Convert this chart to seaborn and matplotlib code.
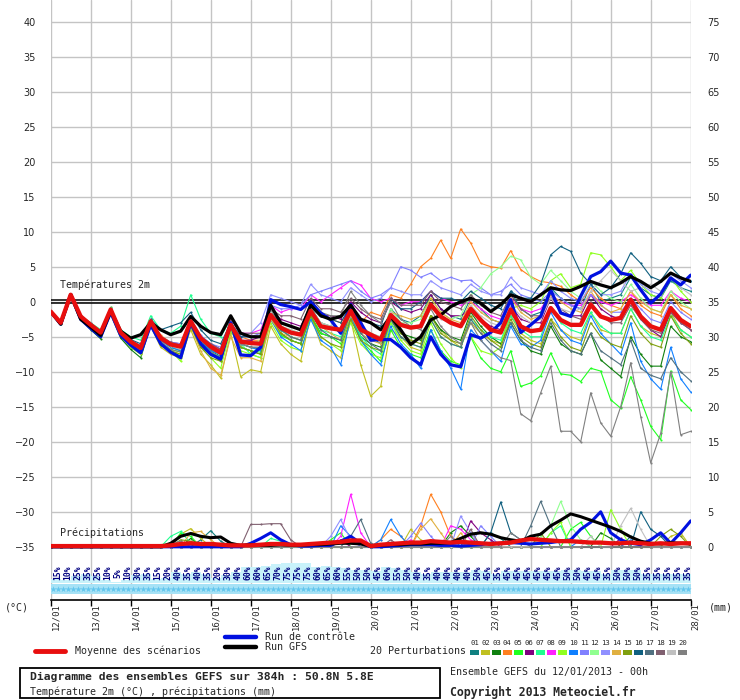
import pandas as pd
import seaborn as sns
import matplotlib.pyplot as plt
import matplotlib.transforms as mtransforms
from matplotlib.lines import Line2D
from matplotlib.patches import Rectangle

# --------------------------------------------------------------------------- #
# Data (6-hourly steps, 12/01 00h -> 28/01 00h)
steps = list(range(65))
day_labels = ["12/01", "13/01", "14/01", "15/01", "16/01", "17/01", "18/01", "19/01", "20/01",
              "21/01", "22/01", "23/01", "24/01", "25/01", "26/01", "27/01", "28/01"]

# ensemble mean temperature (red)
t_mean = [-1.4, -3.0, 1.0, -2.1, -3.3, -4.4, -1.1, -4.4,
          -5.7, -6.6, -2.8, -5.2, -6.1, -6.4, -2.8, -5.2,
          -6.4, -7.3, -3.3, -5.7, -5.9, -6.0, -1.9, -3.7,
          -4.4, -4.7, -1.3, -3.5, -3.8, -4.0, -1.3, -4.0,
          -4.7, -5.4, -1.9, -3.3, -3.7, -3.5, -0.4, -2.1,
          -3.0, -3.5, -1.0, -2.6, -4.0, -4.4, -1.1, -3.5,
          -4.2, -4.0, -0.9, -2.6, -3.3, -3.3, -0.4, -2.1,
          -2.6, -2.3, 0.3, -2.1, -3.5, -4.0, -0.9, -2.6, -3.5]
# control run (blue)
t_ctrl = [-1.4, -3.2, 1.0, -2.5, -3.8, -5.0, -1.5, -4.8,
          -6.2, -7.3, -3.3, -6.0, -7.2, -8.0, -3.0, -6.0,
          -7.5, -8.2, -3.0, -7.6, -7.7, -6.5, 0.3, -0.4,
          -0.7, -1.1, 0.0, -1.6, -2.6, -4.5, -0.4, -3.0,
          -5.5, -5.4, -5.4, -6.5, -8.0, -9.0, -5.0, -7.5,
          -9.0, -9.3, -4.7, -5.2, -4.4, -3.0, 0.3, -4.4,
          -3.3, -2.1, 1.7, -1.6, -2.1, 0.8, 3.6, 4.3,
          5.8, 4.1, 3.8, 1.7, -0.2, 1.1, 3.4, 2.4, 3.8]
# GFS run (black)
t_gfs = [-1.4, -3.2, 1.0, -2.5, -3.6, -4.8, -1.3, -4.2,
         -5.2, -4.7, -3.0, -4.0, -4.7, -4.2, -2.1, -3.5,
         -4.4, -4.7, -2.0, -4.5, -5.0, -5.0, -0.5, -3.0,
         -3.5, -4.0, -0.5, -2.0, -2.5, -2.1, -0.5, -2.5,
         -3.0, -4.0, -2.1, -4.0, -6.1, -5.0, -2.6, -1.9,
         -0.7, 0.0, 0.5, -0.2, -1.4, -0.4, 1.0, 0.5,
         0.0, 1.0, 2.0, 1.7, 1.6, 2.2, 2.9, 2.4,
         2.0, 2.7, 3.6, 2.9, 2.0, 2.9, 4.1, 3.4, 2.9]

# 20 perturbations, temperature
pert_temp = [
    # 01
    [-1.4, -3.1, 1.1, -2.3, -3.5, -4.6, -1.0, -4.5, -6.0, -7.0, -3.0, -5.5, -6.5, -7.0, -3.0, -5.8,
     -7.0, -7.8, -3.2, -6.0, -6.5, -6.8, -1.5, -4.0, -5.0, -5.5, -0.8, -3.0, -3.5, -4.5, -0.5, -3.5,
     -5.0, -6.0, -1.0, -2.5, -3.0, -2.0, 1.0, -1.0, -2.0, -2.5, 0.5, -1.0, -2.5, -3.0, 1.5, -1.0,
     -2.0, -1.5, 2.0, 0.5, -0.5, -1.0, 2.5, 0.0, 0.5, 1.0, 3.5, 2.0, 1.0, 0.5, 3.0, 2.0, 1.5],
    # 02
    [-1.4, -3.0, 0.8, -2.0, -3.0, -4.5, -1.5, -5.0, -6.5, -7.5, -3.5, -6.5, -7.5, -8.0, -4.0, -7.5,
     -9.0, -10.9, -4.5, -10.7, -9.7, -10.0, -3.5, -6.0, -7.5, -8.5, -2.0, -6.0, -7.0, -8.0, -2.5, -9.0,
     -13.5, -12.1, -4.0, -5.0, -6.5, -7.0, -2.0, -4.0, -5.5, -6.5, -3.0, -4.5, -5.5, -6.0, -2.0, -4.5,
     -5.5, -6.0, -2.5, -4.0, -5.0, -5.5, -1.5, -4.0, -4.5, -4.5, -1.0, -3.5, -4.5, -5.0, -1.5, -4.0, -5.0],
    # 03
    [-1.4, -3.2, 0.9, -2.6, -4.0, -5.3, -1.8, -5.2, -6.8, -8.0, -3.4, -6.2, -7.0, -7.8, -3.0, -6.5,
     -7.5, -8.5, -4.0, -6.5, -7.0, -7.5, -2.5, -4.5, -5.5, -6.0, -2.0, -4.5, -5.0, -5.5, -2.0, -5.0,
     -6.0, -6.5, -2.5, -4.5, -5.0, -5.5, -2.0, -4.0, -5.0, -5.5, -1.5, -3.5, -5.0, -6.0, -3.0, -5.5,
     -7.0, -7.5, -3.5, -6.0, -7.0, -7.5, -4.5, -8.3, -9.5, -10.7, -5.0, -7.5, -9.2, -9.2, -3.5, -5.0, -5.7],
    # 04
    [-1.4, -2.9, 1.0, -2.2, -3.4, -4.2, -0.8, -4.2, -5.5, -6.5, -2.6, -4.8, -5.8, -6.2, -2.5, -5.0,
     -6.0, -7.0, -3.0, -5.0, -5.5, -5.5, -1.5, -3.0, -3.5, -4.0, -0.5, -2.0, -2.5, -3.0, -1.0, -3.0,
     -1.5, -2.0, 1.0, 0.5, 2.5, 5.0, 6.2, 8.8, 6.2, 10.4, 8.4, 5.5, 5.0, 4.8, 7.3, 4.6,
     3.6, 2.9, 2.7, 2.2, 1.0, 0.0, 2.0, 0.5, -0.5, -1.0, 1.5, -0.5, -1.5, -2.0, 1.0, -1.0, -2.0],
    # 05
    [-1.4, -3.1, 0.9, -2.4, -3.6, -4.8, -1.3, -4.6, -6.0, -7.2, -3.0, -5.8, -6.8, -7.2, -3.2, -6.0,
     -7.2, -8.0, -3.8, -6.5, -7.0, -7.2, -2.5, -4.8, -5.5, -6.0, -2.0, -4.5, -5.0, -6.0, -2.0, -5.5,
     -7.0, -8.5, -4.0, -6.5, -7.5, -8.0, -4.0, -7.0, -8.5, -9.0, -5.0, -8.0, -9.5, -10.0, -7.0, -12.1,
     -11.6, -10.6, -7.3, -10.3, -10.5, -11.4, -9.5, -9.9, -14.0, -15.2, -10.7, -14.0, -17.8, -19.7, -9.9, -14.0, -15.4],
    # 06
    [-1.4, -3.0, 1.0, -2.0, -3.2, -4.3, -1.0, -4.2, -5.5, -6.3, -2.5, -5.0, -5.8, -6.0, -2.5, -5.0,
     -6.0, -6.8, -3.0, -5.5, -5.5, -5.0, -1.0, -2.5, -3.0, -3.5, -0.5, -2.0, -2.0, -2.5, 0.0, -1.5,
     -2.5, -3.0, 0.0, -1.0, -1.5, -1.0, 1.0, -1.0, -2.0, -2.0, -1.0, -2.5, -3.5, -4.0, -0.5, -2.5,
     -3.0, -3.0, 0.5, -1.5, -2.0, -2.0, 1.0, -1.0, -2.0, -2.5, 0.0, -2.5, -4.0, -5.0, -1.5, -3.0, -4.0],
    # 07
    [-1.4, -3.0, 1.1, -2.0, -3.0, -4.0, -0.8, -4.0, -5.0, -5.5, -2.0, -4.0, -4.5, -3.5, 1.0, -2.5,
     -4.5, -5.0, -2.5, -6.0, -7.5, -8.0, -2.0, -4.0, -5.0, -5.5, -1.5, -4.0, -4.5, -5.0, -1.5, -5.0,
     -6.5, -7.5, -3.0, -5.0, -6.0, -6.5, -2.5, -5.0, -6.0, -6.5, -2.5, -4.0, -5.0, -5.5, -2.0, -4.0,
     -5.0, -5.0, -1.0, -3.0, -4.0, -4.5, -1.5, -3.5, -4.5, -4.5, -1.0, -3.5, -5.0, -5.5, -2.0, -4.0, -5.0],
    # 08
    [-1.4, -3.0, 1.0, -2.1, -3.3, -4.4, -1.2, -4.5, -5.8, -6.8, -3.0, -5.5, -6.0, -6.5, -3.0, -5.5,
     -6.5, -7.2, -2.5, -4.5, -4.5, -4.0, -0.5, -1.5, -1.0, -1.0, 1.0, 0.0, 1.0, 2.0, 3.0, 2.4,
     0.5, 0.0, 0.5, -0.5, 0.0, 0.0, 1.5, 0.5, 0.0, -0.5, 0.0, -1.0, -2.0, -2.5, 0.5, -1.0,
     -1.5, -1.0, 1.0, 0.0, -0.5, -0.5, 1.0, 0.0, -0.5, 0.0, 1.0, 0.0, -0.5, -0.5, 1.5, 0.5, 0.0],
    # 09
    [-1.4, -3.0, 0.9, -2.3, -3.6, -4.8, -1.4, -4.8, -6.5, -7.5, -3.5, -6.0, -7.0, -8.5, -3.5, -6.5,
     -8.0, -9.5, -4.0, -7.0, -7.5, -8.0, -3.0, -5.5, -6.5, -7.0, -2.5, -5.0, -6.0, -7.0, -3.0, -6.0,
     -7.5, -8.0, -3.0, -5.5, -7.0, -7.5, -3.0, -6.0, -8.0, -9.5, -5.0, -7.0, -7.5, -6.5, -1.0, -0.5,
     -1.0, 0.0, 3.0, 4.0, 2.0, 2.5, 7.0, 6.7, 5.0, 3.0, 4.5, 2.5, 1.0, 0.5, 3.5, 1.5, 0.0],
    # 10
    [-1.4, -3.0, 1.0, -2.2, -3.4, -4.6, -1.2, -4.6, -6.0, -7.0, -3.0, -5.5, -6.5, -7.0, -3.0, -5.5,
     -7.0, -7.5, -3.5, -6.0, -6.5, -7.0, -2.5, -5.0, -6.0, -7.0, -2.5, -5.5, -6.5, -9.0, -2.0, -5.5,
     -7.5, -9.0, -3.5, -6.0, -7.5, -9.5, -4.0, -7.0, -9.5, -12.5, -4.0, -5.5, -7.0, -8.5, -3.5, -6.0,
     -6.5, -5.5, -1.5, -4.0, -5.5, -6.0, -2.0, -4.5, -6.0, -7.5, -3.0, -8.5, -11.0, -12.5, -6.5, -11.0, -12.9],
    # 11
    [-1.4, -2.9, 1.1, -2.0, -3.1, -4.2, -1.0, -4.2, -5.5, -6.3, -2.6, -5.0, -5.8, -6.0, -2.5, -4.8,
     -6.0, -6.5, -3.0, -5.0, -5.0, -4.5, -0.5, -1.0, -1.0, -0.5, 1.0, 1.5, 2.0, 2.5, 3.0, 1.5,
     0.5, 1.0, 2.0, 5.0, 4.5, 3.5, 4.1, 3.0, 3.5, 3.0, 3.1, 2.0, 1.0, 1.5, 2.5, 1.0,
     0.5, 0.0, 1.5, 0.5, -0.5, -1.0, 1.0, -0.5, -1.5, -1.5, 0.5, -1.0, -2.5, -3.0, 0.0, -1.5, -2.5],
    # 12
    [-1.4, -3.1, 1.0, -2.2, -3.5, -4.5, -1.1, -4.4, -5.8, -6.6, -2.8, -5.2, -6.3, -6.8, -3.0, -6.0,
     -7.5, -8.0, -3.5, -6.5, -6.0, -5.5, -1.5, -3.5, -4.0, -4.5, -1.0, -3.0, -3.5, -4.0, -1.0, -3.5,
     -4.5, -5.0, -1.0, -3.0, -3.0, -2.5, 0.5, -1.5, -2.5, -2.0, 1.0, 2.0, 4.0, 5.0, 6.5, 6.0,
     3.5, 2.5, 4.5, 3.0, 1.5, 0.5, 3.0, 1.5, 0.5, 0.0, 2.5, 0.5, -1.0, -1.5, 1.5, 0.0, -1.0],
    # 13
    [-1.4, -3.0, 1.0, -2.1, -3.3, -4.3, -1.0, -4.3, -5.6, -6.5, -2.7, -5.1, -6.0, -6.2, -2.6, -5.0,
     -6.2, -7.0, -3.0, -5.0, -4.5, -3.0, 1.0, 0.5, 0.0, -0.5, 2.5, 1.0, 0.5, 0.0, 2.0, 1.0,
     0.0, 0.5, 2.0, 1.5, 1.0, 1.0, 3.0, 2.0, 1.5, 1.0, 2.5, 1.5, 1.0, 1.0, 3.5, 2.0,
     1.5, 1.0, 3.0, 1.5, 0.5, 0.0, 2.5, 1.0, 1.0, 1.5, 4.0, 2.5, 1.5, 1.0, 4.0, 3.0, 2.0],
    # 14
    [-1.4, -3.0, 1.0, -2.3, -3.6, -4.6, -1.3, -4.7, -6.2, -7.3, -3.2, -6.0, -7.0, -7.5, -3.5, -7.0,
     -9.5, -10.5, -5.0, -8.0, -8.0, -8.5, -2.5, -4.5, -5.0, -5.5, -1.5, -3.5, -4.5, -5.5, -2.0, -4.5,
     -5.5, -6.0, -1.5, -2.0, -2.5, -2.0, 0.5, -1.5, -2.5, -3.0, 0.0, -1.5, -2.5, -3.0, 0.5, -1.5,
     -2.5, -2.0, 1.0, 0.0, -1.0, -1.5, 1.5, -0.5, -1.5, -1.0, 1.5, 0.0, -1.0, -1.5, 1.0, -0.5, -1.0],
    # 15
    [-1.4, -3.1, 0.9, -2.2, -3.4, -4.5, -1.2, -4.6, -6.0, -7.2, -3.2, -6.0, -7.0, -7.5, -3.5, -6.5,
     -8.0, -8.5, -3.5, -6.5, -7.0, -7.5, -2.0, -4.5, -5.5, -6.0, -2.0, -5.0, -6.0, -6.5, -2.5, -5.5,
     -6.5, -7.0, -2.5, -4.5, -5.5, -6.0, -2.0, -4.5, -5.5, -6.0, -2.0, -4.0, -5.5, -6.5, -2.5, -5.0,
     -6.0, -6.5, -2.5, -5.0, -6.5, -7.0, -3.0, -5.0, -6.0, -6.5, -2.0, -4.5, -6.0, -6.5, -2.0, -4.5, -6.0],
    # 16
    [-1.4, -3.0, 1.0, -2.1, -3.2, -4.2, -1.0, -4.2, -5.4, -6.0, -2.5, -4.0, -3.5, -3.0, -1.5, -4.0,
     -5.5, -6.0, -3.0, -5.0, -5.0, -5.0, -1.5, -3.0, -3.5, -4.0, -0.5, -2.0, -2.5, -3.0, -0.5, -2.5,
     -3.0, -3.5, 0.5, -1.0, -1.0, 0.0, 1.5, 0.5, 0.5, 0.0, 1.5, 0.5, -0.5, -1.0, 1.5, 0.5,
     0.5, 2.5, 6.7, 7.9, 7.2, 4.1, 2.5, 1.0, 2.0, 4.0, 7.0, 5.5, 3.6, 3.0, 5.0, 3.5, 3.0],
    # 17
    [-1.4, -3.0, 1.0, -2.2, -3.4, -4.5, -1.2, -4.5, -5.8, -6.8, -2.9, -5.4, -6.3, -6.8, -3.0, -5.5,
     -6.8, -7.5, -3.5, -6.0, -6.5, -6.5, -2.0, -4.0, -5.0, -5.5, -1.5, -4.0, -5.0, -5.5, -1.5, -4.5,
     -6.0, -7.0, -2.5, -5.0, -6.0, -6.5, -2.5, -5.0, -6.0, -6.5, -2.5, -4.5, -6.0, -7.0, -3.0, -5.5,
     -6.5, -7.0, -3.0, -5.5, -7.0, -7.5, -4.5, -7.0, -8.0, -9.0, -5.5, -9.5, -10.5, -11.0, -8.0, -10.0, -11.3],
    # 18
    [-1.4, -3.0, 1.0, -2.0, -3.2, -4.3, -1.0, -4.3, -5.6, -6.4, -2.6, -5.0, -5.8, -6.2, -2.6, -5.0,
     -6.0, -6.8, -2.5, -4.5, -4.5, -4.5, -1.0, -2.0, -2.0, -2.5, 0.5, -1.0, -1.0, -1.5, 0.5, -1.0,
     -2.0, -2.5, 0.5, -0.5, -0.5, -0.5, 1.5, 0.0, -0.5, -1.0, 1.0, -0.5, -1.5, -2.0, 1.0, -1.0,
     -2.0, -2.0, 0.5, -1.0, -2.0, -2.5, 0.0, -2.0, -3.0, -3.0, -0.5, -2.5, -4.0, -4.5, -1.5, -3.0, -4.0],
    # 19
    [-1.4, -3.0, 1.0, -2.1, -3.3, -4.4, -1.1, -4.4, -5.7, -6.6, -2.8, -5.3, -6.3, -6.8, -3.0, -5.5,
     -6.5, -7.5, -3.5, -6.0, -6.0, -6.0, -1.5, -3.5, -4.0, -4.5, -1.0, -3.0, -3.5, -4.0, -1.0, -3.5,
     -4.5, -5.0, -1.5, -3.0, -3.5, -3.5, -0.5, -2.5, -3.0, -3.5, -0.5, -2.0, -3.0, -3.5, -0.5, -2.0,
     -3.0, -2.5, 0.5, -1.0, -1.5, -1.0, 1.5, 3.0, 4.5, 3.0, 1.5, 2.0, 2.5, 1.5, 3.5, 2.0, 1.0],
    # 20
    [-1.4, -3.0, 1.0, -2.2, -3.4, -4.6, -1.3, -4.7, -6.0, -7.0, -3.0, -5.7, -6.8, -7.2, -3.2, -6.0,
     -7.2, -8.0, -3.5, -6.0, -6.5, -6.5, -1.0, -3.0, -3.5, -4.0, 0.0, -1.5, -2.0, -2.0, 1.5, -0.5,
     -2.0, -3.0, 0.0, -2.5, -3.5, -4.0, -1.0, -3.5, -5.0, -6.0, -3.0, -5.5, -7.0, -8.0, -8.4, -16.0,
     -17.0, -13.0, -9.2, -18.5, -18.5, -20.0, -13.0, -17.3, -19.2, -15.0, -8.7, -16.4, -23.0, -18.8, -10.0, -19.0, -18.5],
]

# precipitation (mm / 6h)
pr_mean = [0.1, 0.1, 0.1, 0.1, 0.1, 0.1, 0.1, 0.1,
           0.1, 0.1, 0.1, 0.1, 0.2, 0.4, 0.5, 0.4,
           0.4, 0.3, 0.2, 0.2, 0.2, 0.3, 0.4, 0.4,
           0.3, 0.3, 0.4, 0.5, 0.6, 0.7, 0.9, 0.9,
           0.1, 0.3, 0.4, 0.5, 0.6, 0.6, 0.8, 0.7,
           0.6, 0.7, 0.6, 0.5, 0.4, 0.5, 0.6, 0.9,
           1.1, 1.0, 0.9, 0.8, 0.8, 0.7, 0.6, 0.6,
           0.5, 0.5, 0.6, 0.5, 0.4, 0.5, 0.4, 0.5, 0.5]
pr_ctrl = [0, 0, 0, 0, 0, 0, 0, 0,
           0, 0, 0, 0, 0, 0, 0, 0,
           0, 0, 0, 0, 0.5, 1.2, 2.0, 1.0,
           0.3, 0.1, 0.1, 0.2, 0.2, 0.8, 1.5, 0.5,
           0, 0, 0.1, 0.2, 0.3, 0.3, 0.3, 0.2,
           0.2, 0.1, 0.2, 0.3, 0.5, 0.5, 0.6, 0.5,
           0.4, 0.5, 0.6, 0.8, 1.0, 2.5, 3.5, 5.0,
           2.0, 1.0, 0.5, 0.3, 1.0, 2.0, 0.5, 2.0, 3.7]
pr_gfs = [0, 0, 0, 0, 0, 0, 0, 0,
          0, 0, 0, 0, 0.5, 1.5, 1.9, 1.5,
          1.3, 1.4, 0.5, 0.2, 0.3, 0.2, 0.2, 0.3,
          0.2, 0.2, 0.3, 0.3, 0.4, 0.5, 0.5, 0.4,
          0.1, 0.2, 0.3, 0.3, 0.4, 0.4, 0.5, 0.5,
          0.6, 1.2, 1.8, 2.0, 1.8, 1.3, 1.0, 0.8,
          1.5, 1.8, 3.0, 3.8, 4.7, 4.3, 3.8, 3.3,
          2.8, 2.2, 1.4, 0.8, 0.5, 0.4, 0.6, 0.5, 0.4]
# perturbations: non-zero 6h amounts only {step: mm}
pert_precip = [
    {15: 1.0, 16: 2.3, 17: 0.8, 44: 2.0, 45: 1.2, 58: 1.5, 59: 0.8},          # 01
    {13: 1.8, 14: 2.6, 15: 1.2, 36: 2.5, 37: 1.0, 62: 1.5, 63: 2.0},          # 02
    {14: 1.2, 40: 2.0, 41: 3.0, 42: 1.5, 55: 2.0, 56: 1.2},                   # 03
    {33: 1.0, 34: 2.5, 35: 1.5, 37: 3.0, 38: 7.5, 39: 5.0, 40: 1.5, 41: 0.5},  # 04
    {13: 2.0, 14: 1.5, 28: 1.0, 29: 2.0, 52: 2.5, 53: 3.5, 54: 1.5},          # 05
    {29: 1.0, 42: 3.7, 43: 2.0, 44: 1.0, 57: 1.2},                            # 06
    {12: 1.5, 13: 2.2, 14: 0.5, 22: 1.2, 23: 0.8, 50: 2.0, 51: 3.0},          # 07
    {29: 1.5, 30: 7.5, 31: 2.0, 36: 1.0, 40: 3.0, 41: 2.5, 42: 1.0},          # 08
    {50: 2.0, 51: 3.5, 56: 5.3, 57: 2.5},                                     # 09
    {29: 3.0, 30: 1.5, 33: 1.0, 34: 3.9, 35: 1.5, 53: 1.0, 58: 1.0},          # 10
    {36: 1.5, 37: 3.4, 38: 1.5, 43: 3.0, 44: 1.5},                            # 11
    {49: 1.5, 50: 3.0, 51: 6.5, 52: 3.0, 53: 1.0},                            # 12
    {28: 1.5, 29: 3.9, 30: 1.0, 41: 4.4, 42: 2.0},                            # 13
    {14: 2.0, 15: 2.2, 16: 1.0, 37: 2.5, 38: 4.0, 39: 2.0, 41: 2.0},          # 14
    {13: 1.0, 14: 0.8, 49: 2.0, 61: 1.5, 62: 2.5, 63: 1.5},                   # 15
    {44: 2.0, 45: 6.4, 46: 2.0, 47: 1.0, 59: 5.0, 60: 2.5, 61: 1.5},          # 16
    {30: 1.5, 31: 3.9, 32: 0.5, 48: 3.0, 49: 6.5, 50: 3.0},                   # 17
    {20: 3.2, 21: 3.2, 22: 3.3, 23: 3.3, 24: 1.0, 34: 1.0, 42: 2.5},          # 18
    {54: 1.5, 57: 3.0, 58: 5.5, 59: 2.5},                                     # 19
    {12: 0.5, 13: 0.8, 40: 1.5, 46: 2.0, 47: 1.0},                            # 20
]

# probability strip (%), one per 6h interval
pct = [15, 10, 25, 35, 25, 10, 5, 10, 30, 35, 15, 20, 40, 35, 40, 35,
       20, 30, 40, 60, 60, 65, 70, 75, 75, 75, 60, 65, 60, 55, 50, 50,
       45, 60, 55, 50, 40, 35, 40, 40, 40, 40, 50, 45, 35, 45, 45, 45,
       45, 45, 45, 50, 50, 45, 45, 35, 50, 50, 50, 35, 35, 35, 35, 35]

member_names = [f"{k:02d}" for k in range(1, 21)]
member_colors = ["#108080", "#c0c020", "#108010", "#ff8020", "#20ff20", "#800080", "#20ff90",
                 "#ff20ff", "#90ff20", "#1080ff", "#8080ff", "#90ff90", "#9090ff", "#e0b040",
                 "#80a010", "#106080", "#507080", "#806070", "#c0c0c0", "#808080"]

# --------------------------------------------------------------------------- #
# Long-form tables for seaborn
rows_t, rows_p = [], []
for name, vals, spikes in zip(member_names, pert_temp, pert_precip):
    assert len(vals) == 65
    for s in steps:
        rows_t.append((name, s, vals[s]))
        rows_p.append((name, s, spikes.get(s, 0.0)))
df_t = pd.DataFrame(rows_t, columns=["member", "step", "temp"])
df_p = pd.DataFrame(rows_p, columns=["member", "step", "mm"])
palette = dict(zip(member_names, member_colors))

# --------------------------------------------------------------------------- #
sns.set_style("white")
plt.rcParams["font.family"] = ["DejaVu Sans"]
MONO = "DejaVu Sans Mono"
RED, BLUE = "#e80e0e", "#0010e0"

fig = plt.figure(figsize=(7.4, 7.0), dpi=100)
ax = fig.add_axes([50.7 / 740, 100 / 700, 640 / 740, 600 / 700])
ax2 = ax.twinx()

lo, hi = -42.6, 43.1
ax.set_xlim(0, 64)
ax.set_ylim(lo, hi)
ax2.set_ylim(lo + 35, hi + 35)

# grid
ax.set_yticks(range(-35, 41, 5))
ax.set_xticks(range(0, 65, 4))
ax.grid(True, color="#c4c4c4", lw=1)
ax.set_axisbelow(True)
ax.axhline(0.2, color="black", lw=1.1, zorder=1.5)
ax.axhline(-0.2, color="black", lw=1.1, zorder=1.5)

# probability strip
ax.bar([k + 0.5 for k in range(64)], [p * 0.038 for p in pct], width=1.0, bottom=-40.15,
       color="#c8f2fa", lw=0, zorder=1.2)
ax.axhspan(-41.8, -40.3, color="#a6e2f6", lw=0, zorder=1.3)
ax.scatter([k * 0.5 + 0.25 for k in range(128)], [-41.05] * 128, marker="*", s=22,
           color="#62c6ee", lw=0, zorder=1.4)
for k, p in enumerate(pct):
    ax.text(k + 0.7, -38.7, f"{p}%", rotation=90, ha="center", va="center", fontsize=5.8,
            color="#000080", family=MONO, fontweight="bold", zorder=5)

# temperature
sns.lineplot(data=df_t, x="step", y="temp", hue="member", palette=palette, estimator=None,
             legend=False, lw=0.8, marker=".", markersize=3, markeredgewidth=0, ax=ax)
sns.lineplot(x=steps, y=t_ctrl, color=BLUE, lw=2.3, ax=ax, zorder=3)
sns.lineplot(x=steps, y=t_gfs, color="black", lw=2.3, ax=ax, zorder=3.1)
sns.lineplot(x=steps, y=t_mean, color=RED, lw=3.1, ax=ax, zorder=4)

# precipitation on right axis
sns.lineplot(data=df_p, x="step", y="mm", hue="member", palette=palette, estimator=None,
             legend=False, lw=0.8, marker=".", markersize=3, markeredgewidth=0, ax=ax2)
sns.lineplot(x=steps, y=pr_ctrl, color=BLUE, lw=2.2, ax=ax2, zorder=3)
sns.lineplot(x=steps, y=pr_gfs, color="black", lw=2.2, ax=ax2, zorder=3.1)
sns.lineplot(x=steps, y=pr_mean, color=RED, lw=3.1, ax=ax2, zorder=4)

ax.text(0.93, 2.4, "Températures 2m", family=MONO, fontsize=7.2, va="center", ha="left")
ax.text(0.93, -33.0, "Précipitations", family=MONO, fontsize=7.2, va="center", ha="left")

# axes cosmetics
for a in (ax, ax2):
    a.set_xlabel("")
    a.set_ylabel("")
    for side in ("top", "left", "right"):
        a.spines[side].set_visible(False)
ax.spines["bottom"].set_color("black")
ax.spines["bottom"].set_linewidth(1.2)
ax2.spines["bottom"].set_visible(False)
ax.tick_params(axis="y", length=0, pad=10.8, labelsize=7)
ax2.set_yticks(range(0, 76, 5))
ax2.tick_params(axis="y", length=0, pad=12.2, labelsize=7)
ax.set_xticks(range(0, 65, 4))
ax.set_xticklabels(day_labels, rotation=90, family=MONO, fontsize=6.4, va="top")
ax.tick_params(axis="x", length=4, width=1, color="black", pad=-1.5, bottom=True)
shift = mtransforms.ScaledTranslation(5 / 100, 0, fig.dpi_scale_trans)
for lab in ax.get_xticklabels():
    lab.set_transform(lab.get_transform() + shift)


# --------------------------------------------------------------------------- #
# legend / captions (pixel positions)
def fx(px):
    return px / 740


def fy(py):
    return 1 - py / 700


fig.text(fx(5), fy(607), "(°C)", family=MONO, fontsize=7.2, va="center")
fig.text(fx(709), fy(607), "(mm)", family=MONO, fontsize=7.2, va="center")

fig.add_artist(Line2D([fx(35), fx(65)], [fy(651)] * 2, color=RED, lw=3.5))
fig.text(fx(75), fy(651), "Moyenne des scénarios", family=MONO, fontsize=7.2, va="center")
fig.add_artist(Line2D([fx(225), fx(256)], [fy(637)] * 2, color=BLUE, lw=3.2))
fig.text(fx(265), fy(637), "Run de contrôle", family=MONO, fontsize=7.2, va="center")
fig.add_artist(Line2D([fx(225), fx(256)], [fy(647)] * 2, color="black", lw=3.2))
fig.text(fx(265), fy(647), "Run GFS", family=MONO, fontsize=7.2, va="center")

fig.text(fx(370), fy(651), "20 Perturbations", family=MONO, fontsize=7.2, va="center")
for k, (name, col) in enumerate(zip(member_names, member_colors)):
    x0 = 470 + k * 10.95
    fig.add_artist(Rectangle((fx(x0), fy(655)), 9 / 740, 5 / 700, facecolor=col, lw=0))
    fig.text(fx(x0 + 4.5), fy(643), name, family=MONO, fontsize=5.2, ha="center", va="center")

fig.add_artist(Rectangle((fx(20), fy(698)), 420 / 740, 30 / 700, facecolor="none",
                         edgecolor="black", lw=1.3))
fig.text(fx(30), fy(677), "Diagramme des ensembles GEFS sur 384h : 50.8N 5.8E", family=MONO,
         fontsize=8.2, fontweight="bold", va="center")
fig.text(fx(30), fy(692), "Température 2m (°C) , précipitations (mm)", family=MONO,
         fontsize=7.2, va="center")
fig.text(fx(450), fy(672), "Ensemble GEFS du 12/01/2013 - 00h", family=MONO, fontsize=7.2,
         va="center")
fig.text(fx(450), fy(692), "Copyright 2013 Meteociel.fr", family=MONO, fontsize=8.3,
         fontweight="bold", va="center")

fig.savefig("out.png", dpi=100)
